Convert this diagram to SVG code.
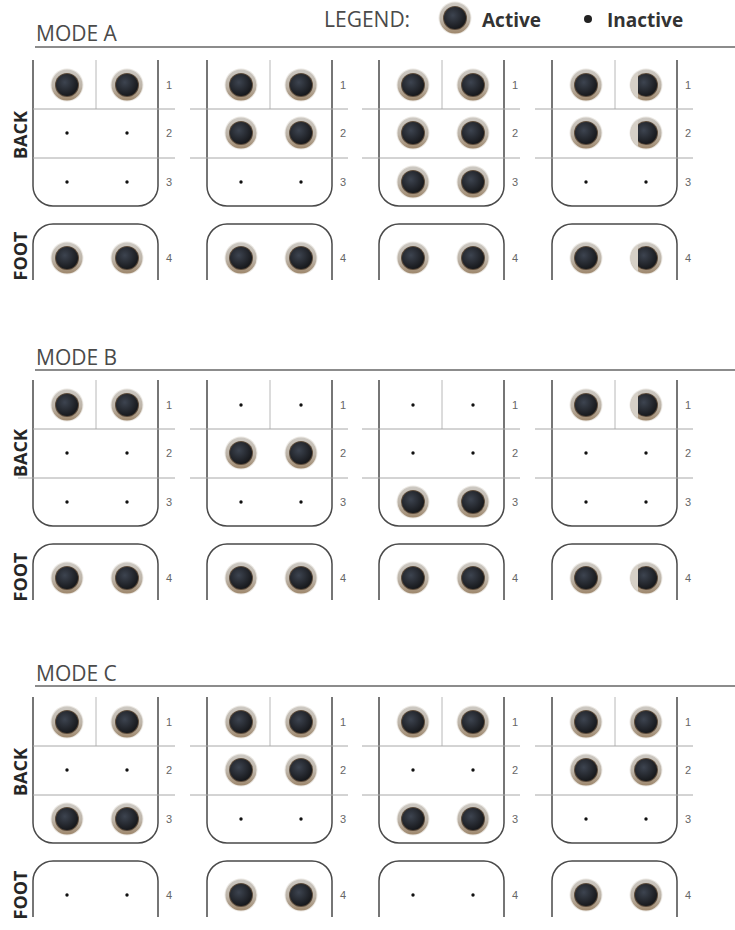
<svg xmlns="http://www.w3.org/2000/svg" xmlns:xlink="http://www.w3.org/1999/xlink" width="735" height="930" viewBox="0 0 735 930">
<style>
.outline{fill:none;stroke:#4a4a4a;stroke-width:1.5}
.row{stroke:#a8a8a8;stroke-width:1}
.div{stroke:#b8b8b8;stroke-width:1}
.rule{stroke:#8c8c8c;stroke-width:2}
.num{font-family:"Liberation Sans",Arial,sans-serif;font-size:11px;fill:#666}
.title{font-family:"Open Sans","Liberation Sans",sans-serif;font-size:21px;fill:#4a4a4a}
.side{font-family:"Open Sans","Liberation Sans",sans-serif;font-size:18px;font-weight:bold;fill:#262626}
.leg{font-family:"Open Sans","Liberation Sans",sans-serif;font-size:19px;font-weight:bold;fill:#333}
</style>
<defs>
<linearGradient id="ring" x1="0" y1="0" x2="0" y2="1">
<stop offset="0" stop-color="#cdc9c3"/>
<stop offset="0.55" stop-color="#bdb4a8"/>
<stop offset="1" stop-color="#9e876c"/>
</linearGradient>
<radialGradient id="core" cx="40%" cy="38%" r="65%">
<stop offset="0" stop-color="#3d4450"/>
<stop offset="1" stop-color="#16171a"/>
</radialGradient>
<clipPath id="cutclip"><rect x="-8" y="-18" width="30" height="36"/></clipPath>
<g id="btn">
<circle r="16.5" fill="#ebe8e3"/>
<circle r="15.5" fill="url(#ring)"/>
<circle r="12" fill="#5b4b3b"/>
<circle r="11" fill="url(#core)"/>
</g>
<g id="btnCut">
<circle r="16.5" fill="#ebe8e3"/>
<circle r="15.5" fill="url(#ring)"/>
<path d="M-8,-13.3 A15.5,15.5 0 0 0 -8,13.3 Z" fill="#d6d0c7"/>
<g clip-path="url(#cutclip)">
<circle r="12" fill="#5b4b3b"/>
<circle r="11" fill="url(#core)"/>
</g>
</g>
<circle id="dot" r="1.7" fill="#111"/>
<g id="frame">
<path class="outline" d="M0,-25 V101 A20,20 0 0 0 20,121 H105 A20,20 0 0 0 125,101 V-25"/>
<path class="outline" d="M0,195 V159 A20,20 0 0 1 20,139 H105 A20,20 0 0 1 125,159 V195"/>
<line class="div" x1="63" y1="-25" x2="63" y2="24"/>
</g>
</defs>
<rect width="735" height="930" fill="#fff"/>

<g id="legend">
<text x="324" y="27" class="title">LEGEND:</text>
<use xlink:href="#btn" x="455" y="18"/>
<text x="482" y="27" class="leg">Active</text>
<circle cx="588" cy="19" r="4" fill="#222"/>
<text x="607" y="27" class="leg">Inactive</text>
</g>

<!-- MODE A -->
<g id="modeA-header">
<text x="36" y="41" class="title">MODE A</text>
<line class="rule" x1="35" y1="47" x2="735" y2="47"/>
<text class="side" text-anchor="middle" transform="translate(27,135) rotate(-90)">BACK</text>
<text class="side" text-anchor="middle" transform="translate(27,256) rotate(-90)">FOOT</text>
</g>
<g id="modeA-p1" transform="translate(33,85)">
<use xlink:href="#frame"/>
<line class="row" x1="0" y1="24" x2="142" y2="24"/><line class="row" x1="0" y1="73" x2="142" y2="73"/>
<use xlink:href="#btn" x="34" y="0"/><use xlink:href="#btn" x="94" y="0"/>
<use xlink:href="#dot" x="34" y="48"/><use xlink:href="#dot" x="94" y="48"/>
<use xlink:href="#dot" x="34" y="97"/><use xlink:href="#dot" x="94" y="97"/>
<use xlink:href="#btn" x="34" y="173"/><use xlink:href="#btn" x="94" y="173"/>
<text class="num" x="133" y="4">1</text><text class="num" x="133" y="52">2</text><text class="num" x="133" y="101">3</text><text class="num" x="133" y="177">4</text>
</g>
<g id="modeA-p2" transform="translate(207,85)">
<use xlink:href="#frame"/>
<line class="row" x1="-17" y1="24" x2="141" y2="24"/><line class="row" x1="-17" y1="73" x2="141" y2="73"/>
<use xlink:href="#btn" x="34" y="0"/><use xlink:href="#btn" x="94" y="0"/>
<use xlink:href="#btn" x="34" y="48"/><use xlink:href="#btn" x="94" y="48"/>
<use xlink:href="#dot" x="34" y="97"/><use xlink:href="#dot" x="94" y="97"/>
<use xlink:href="#btn" x="34" y="173"/><use xlink:href="#btn" x="94" y="173"/>
<text class="num" x="133" y="4">1</text><text class="num" x="133" y="52">2</text><text class="num" x="133" y="101">3</text><text class="num" x="133" y="177">4</text>
</g>
<g id="modeA-p3" transform="translate(379,85)">
<use xlink:href="#frame"/>
<line class="row" x1="-17" y1="24" x2="141" y2="24"/><line class="row" x1="-17" y1="73" x2="141" y2="73"/>
<use xlink:href="#btn" x="34" y="0"/><use xlink:href="#btn" x="94" y="0"/>
<use xlink:href="#btn" x="34" y="48"/><use xlink:href="#btn" x="94" y="48"/>
<use xlink:href="#btn" x="34" y="97"/><use xlink:href="#btn" x="94" y="97"/>
<use xlink:href="#btn" x="34" y="173"/><use xlink:href="#btn" x="94" y="173"/>
<text class="num" x="133" y="4">1</text><text class="num" x="133" y="52">2</text><text class="num" x="133" y="101">3</text><text class="num" x="133" y="177">4</text>
</g>
<g id="modeA-p4" transform="translate(552,85)">
<use xlink:href="#frame"/>
<line class="row" x1="-17" y1="24" x2="141" y2="24"/><line class="row" x1="-17" y1="73" x2="141" y2="73"/>
<use xlink:href="#btn" x="34" y="0"/><use xlink:href="#btnCut" x="94" y="0"/>
<use xlink:href="#btn" x="34" y="48"/><use xlink:href="#btnCut" x="94" y="48"/>
<use xlink:href="#dot" x="34" y="97"/><use xlink:href="#dot" x="94" y="97"/>
<use xlink:href="#btn" x="34" y="173"/><use xlink:href="#btnCut" x="94" y="173"/>
<text class="num" x="133" y="4">1</text><text class="num" x="133" y="52">2</text><text class="num" x="133" y="101">3</text><text class="num" x="133" y="177">4</text>
</g>

<!-- MODE B -->
<g id="modeB-header">
<text x="36" y="365" class="title">MODE B</text>
<line class="rule" x1="35" y1="370" x2="735" y2="370"/>
<text class="side" text-anchor="middle" transform="translate(27,453) rotate(-90)">BACK</text>
<text class="side" text-anchor="middle" transform="translate(27,577) rotate(-90)">FOOT</text>
</g>
<g id="modeB-p1" transform="translate(33,405)">
<use xlink:href="#frame"/>
<line class="row" x1="0" y1="24" x2="142" y2="24"/><line class="row" x1="-15" y1="73" x2="142" y2="73"/>
<use xlink:href="#btn" x="34" y="0"/><use xlink:href="#btn" x="94" y="0"/>
<use xlink:href="#dot" x="34" y="48"/><use xlink:href="#dot" x="94" y="48"/>
<use xlink:href="#dot" x="34" y="97"/><use xlink:href="#dot" x="94" y="97"/>
<use xlink:href="#btn" x="34" y="173"/><use xlink:href="#btn" x="94" y="173"/>
<text class="num" x="133" y="4">1</text><text class="num" x="133" y="52">2</text><text class="num" x="133" y="101">3</text><text class="num" x="133" y="177">4</text>
</g>
<g id="modeB-p2" transform="translate(207,405)">
<use xlink:href="#frame"/>
<line class="row" x1="-17" y1="24" x2="141" y2="24"/><line class="row" x1="-17" y1="73" x2="141" y2="73"/>
<use xlink:href="#dot" x="34" y="0"/><use xlink:href="#dot" x="94" y="0"/>
<use xlink:href="#btn" x="34" y="48"/><use xlink:href="#btn" x="94" y="48"/>
<use xlink:href="#dot" x="34" y="97"/><use xlink:href="#dot" x="94" y="97"/>
<use xlink:href="#btn" x="34" y="173"/><use xlink:href="#btn" x="94" y="173"/>
<text class="num" x="133" y="4">1</text><text class="num" x="133" y="52">2</text><text class="num" x="133" y="101">3</text><text class="num" x="133" y="177">4</text>
</g>
<g id="modeB-p3" transform="translate(379,405)">
<use xlink:href="#frame"/>
<line class="row" x1="-17" y1="24" x2="141" y2="24"/><line class="row" x1="-17" y1="73" x2="141" y2="73"/>
<use xlink:href="#dot" x="34" y="0"/><use xlink:href="#dot" x="94" y="0"/>
<use xlink:href="#dot" x="34" y="48"/><use xlink:href="#dot" x="94" y="48"/>
<use xlink:href="#btn" x="34" y="97"/><use xlink:href="#btn" x="94" y="97"/>
<use xlink:href="#btn" x="34" y="173"/><use xlink:href="#btn" x="94" y="173"/>
<text class="num" x="133" y="4">1</text><text class="num" x="133" y="52">2</text><text class="num" x="133" y="101">3</text><text class="num" x="133" y="177">4</text>
</g>
<g id="modeB-p4" transform="translate(552,405)">
<use xlink:href="#frame"/>
<line class="row" x1="-17" y1="24" x2="141" y2="24"/><line class="row" x1="-17" y1="73" x2="141" y2="73"/>
<use xlink:href="#btn" x="34" y="0"/><use xlink:href="#btnCut" x="94" y="0"/>
<use xlink:href="#dot" x="34" y="48"/><use xlink:href="#dot" x="94" y="48"/>
<use xlink:href="#dot" x="34" y="97"/><use xlink:href="#dot" x="94" y="97"/>
<use xlink:href="#btn" x="34" y="173"/><use xlink:href="#btnCut" x="94" y="173"/>
<text class="num" x="133" y="4">1</text><text class="num" x="133" y="52">2</text><text class="num" x="133" y="101">3</text><text class="num" x="133" y="177">4</text>
</g>

<!-- MODE C -->
<g id="modeC-header">
<text x="36" y="681" class="title">MODE C</text>
<line class="rule" x1="35" y1="686" x2="735" y2="686"/>
<text class="side" text-anchor="middle" transform="translate(27,772) rotate(-90)">BACK</text>
<text class="side" text-anchor="middle" transform="translate(27,895) rotate(-90)">FOOT</text>
</g>
<g id="modeC-p1" transform="translate(33,722)">
<use xlink:href="#frame"/>
<line class="row" x1="0" y1="24" x2="142" y2="24"/><line class="row" x1="0" y1="73" x2="142" y2="73"/>
<use xlink:href="#btn" x="34" y="0"/><use xlink:href="#btn" x="94" y="0"/>
<use xlink:href="#dot" x="34" y="48"/><use xlink:href="#dot" x="94" y="48"/>
<use xlink:href="#btn" x="34" y="97"/><use xlink:href="#btn" x="94" y="97"/>
<use xlink:href="#dot" x="34" y="173"/><use xlink:href="#dot" x="94" y="173"/>
<text class="num" x="133" y="4">1</text><text class="num" x="133" y="52">2</text><text class="num" x="133" y="101">3</text><text class="num" x="133" y="177">4</text>
</g>
<g id="modeC-p2" transform="translate(207,722)">
<use xlink:href="#frame"/>
<line class="row" x1="-17" y1="24" x2="141" y2="24"/><line class="row" x1="-17" y1="73" x2="141" y2="73"/>
<use xlink:href="#btn" x="34" y="0"/><use xlink:href="#btn" x="94" y="0"/>
<use xlink:href="#btn" x="34" y="48"/><use xlink:href="#btn" x="94" y="48"/>
<use xlink:href="#dot" x="34" y="97"/><use xlink:href="#dot" x="94" y="97"/>
<use xlink:href="#btn" x="34" y="173"/><use xlink:href="#btn" x="94" y="173"/>
<text class="num" x="133" y="4">1</text><text class="num" x="133" y="52">2</text><text class="num" x="133" y="101">3</text><text class="num" x="133" y="177">4</text>
</g>
<g id="modeC-p3" transform="translate(379,722)">
<use xlink:href="#frame"/>
<line class="row" x1="-17" y1="24" x2="141" y2="24"/><line class="row" x1="-17" y1="73" x2="141" y2="73"/>
<use xlink:href="#btn" x="34" y="0"/><use xlink:href="#btn" x="94" y="0"/>
<use xlink:href="#dot" x="34" y="48"/><use xlink:href="#dot" x="94" y="48"/>
<use xlink:href="#btn" x="34" y="97"/><use xlink:href="#btn" x="94" y="97"/>
<use xlink:href="#dot" x="34" y="173"/><use xlink:href="#dot" x="94" y="173"/>
<text class="num" x="133" y="4">1</text><text class="num" x="133" y="52">2</text><text class="num" x="133" y="101">3</text><text class="num" x="133" y="177">4</text>
</g>
<g id="modeC-p4" transform="translate(552,722)">
<use xlink:href="#frame"/>
<line class="row" x1="-17" y1="24" x2="141" y2="24"/><line class="row" x1="-17" y1="73" x2="141" y2="73"/>
<use xlink:href="#btn" x="34" y="0"/><use xlink:href="#btn" x="94" y="0"/>
<use xlink:href="#btn" x="34" y="48"/><use xlink:href="#btn" x="94" y="48"/>
<use xlink:href="#dot" x="34" y="97"/><use xlink:href="#dot" x="94" y="97"/>
<use xlink:href="#btn" x="34" y="173"/><use xlink:href="#btn" x="94" y="173"/>
<text class="num" x="133" y="4">1</text><text class="num" x="133" y="52">2</text><text class="num" x="133" y="101">3</text><text class="num" x="133" y="177">4</text>
</g>
</svg>
